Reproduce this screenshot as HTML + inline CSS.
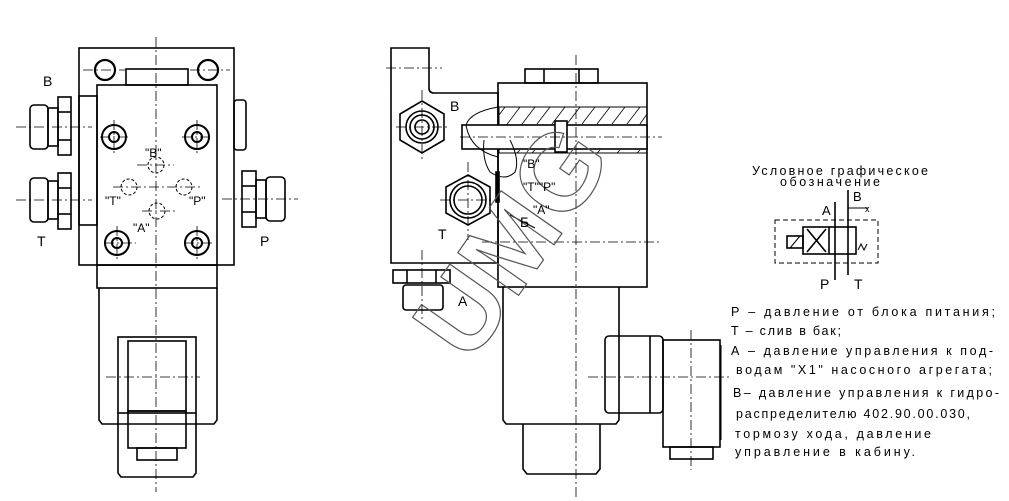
<!DOCTYPE html>
<html><head><meta charset="utf-8"><style>
html,body{margin:0;padding:0;background:#fff;}
svg{display:block;}
text{font-family:"Liberation Sans",sans-serif;fill:#000;}
</style></head><body>
<svg width="1009" height="501" viewBox="0 0 1009 501" xmlns="http://www.w3.org/2000/svg">
<g fill="none" stroke="#000" stroke-width="1.6">
<rect x="79" y="48" width="155" height="217"/>
<rect x="97" y="85" width="120" height="180" fill="#fff"/>
<rect x="97" y="265" width="120" height="23"/>
<rect x="126" y="69" width="62" height="16"/>
<circle cx="105" cy="70" r="10" stroke-width="2.2"/>
<circle cx="208" cy="70" r="10" stroke-width="2.2"/>
<rect x="79" y="96" width="18" height="129"/>
<rect x="58" y="97" width="13" height="58"/><line x1="58" y1="112" x2="71" y2="112"/><line x1="58" y1="140" x2="71" y2="140"/>
<rect x="48" y="108" width="10" height="38"/>
<rect x="30" y="105" width="18" height="44" rx="4"/>
<rect x="58" y="173" width="13" height="56"/><line x1="58" y1="188" x2="71" y2="188"/><line x1="58" y1="214" x2="71" y2="214"/>
<rect x="48" y="181" width="10" height="38"/>
<rect x="30" y="178" width="18" height="44" rx="4"/>
<rect x="234" y="100" width="12" height="50" rx="3"/>
<rect x="242" y="171" width="14" height="56"/><line x1="242" y1="186" x2="256" y2="186"/><line x1="242" y1="212" x2="256" y2="212"/>
<rect x="256" y="180" width="10" height="38"/>
<rect x="266" y="177" width="19" height="44" rx="4"/>
<g stroke-width="2"><circle cx="114" cy="137" r="12"/><circle cx="114" cy="137" r="5"/>
<circle cx="197" cy="137" r="12"/><circle cx="197" cy="137" r="5"/>
<circle cx="117" cy="243" r="12"/><circle cx="117" cy="243" r="5"/>
<circle cx="197" cy="243" r="12"/><circle cx="197" cy="243" r="5"/></g>
<g stroke-dasharray="3,2" stroke-width="1"><circle cx="156" cy="165" r="8"/><circle cx="129" cy="187" r="8"/><circle cx="184" cy="187" r="8"/><circle cx="157" cy="211" r="8"/></g>
<path d="M99 288 V420 L102 424 H214 L217 420 V288"/>
<rect x="118" y="337" width="78" height="76"/>
<rect x="128" y="341" width="58" height="70"/>
<rect x="128" y="411" width="58" height="37"/>
<rect x="137" y="448" width="40" height="12"/>
<path d="M118 413 V473 L121 477 H193 L196 473 V413"/>

<path d="M391 48 H429 V88 Q429 93 434 93 H498 V263 H391 Z"/>
<rect x="498" y="83" width="149" height="204"/>
<rect x="525" y="69" width="73" height="14"/><line x1="544" y1="69" x2="544" y2="83"/><line x1="579" y1="69" x2="579" y2="83"/>
<rect x="499" y="107" width="148" height="46" stroke-width="1"/>
<g stroke-width="0.8">
<path d="M505 107 l-6 8 M520 107 l-21 28 M535 107 l-25 33 M550 107 l-13 17 M565 107 l-13 17 M580 107 l-13 17 M595 107 l-13 17 M610 107 l-13 17 M625 107 l-13 17 M640 107 l-13 17 M647 114 l-7 10 M520 150 l-3 3 M535 150 l-3 3 M600 150 l-3 3 M620 150 l-3 3 M640 150 l-3 3"/>
</g>
<rect x="462" y="125" width="185" height="24" fill="#fff"/>
<rect x="555" y="121" width="12" height="31" fill="#fff"/>
<path d="M498 107 Q470 112 466 125 Q470 150 498 157" stroke-width="1"/>
<path d="M484 140 Q482 160 490 172 Q505 182 515 172 Q520 160 510 140" stroke-width="1"/>
<polygon points="422,101 444,114 444,140 422,153 400,140 400,114" fill="#fff"/>
<circle cx="422" cy="127" r="16"/><circle cx="422" cy="127" r="12"/><circle cx="422" cy="127" r="7"/>
<polygon points="468,175 490,187 490,213 468,225 446,213 446,187" fill="#fff"/>
<circle cx="468" cy="200" r="18"/><circle cx="468" cy="200" r="14"/>
<rect x="496" y="172" width="3" height="30" fill="#000"/>
<line x1="510" y1="215" x2="535" y2="228" stroke-width="1"/>
<rect x="393" y="270" width="57" height="13"/><line x1="407" y1="270" x2="407" y2="283"/><line x1="436" y1="270" x2="436" y2="283"/>
<rect x="403" y="285" width="40" height="25" rx="3"/>
<path d="M503 287 V420 L506 424 H616 L619 420 V287"/>
<path d="M523 424 V469 L527 474 H596 L600 469 V424"/>
<rect x="605" y="336" width="58" height="77" rx="4"/>
<line x1="650" y1="336" x2="650" y2="413"/>
<rect x="663" y="340" width="57" height="107"/>
<rect x="670" y="447" width="43" height="12"/>

<rect x="775" y="220" width="103" height="43" stroke-dasharray="5,3" stroke-width="1"/>
<rect x="803" y="227" width="53" height="27"/>
<line x1="829" y1="227" x2="829" y2="254"/>
<rect x="787" y="236" width="16" height="12"/>
<path d="M790 248 L800 236" stroke-width="1"/>
<path d="M807 229 L826 252 M826 229 L807 252" stroke-width="1.6"/>
<line x1="835" y1="202" x2="835" y2="280"/>
<line x1="848" y1="190" x2="848" y2="275"/>
<line x1="848" y1="208" x2="868" y2="208" stroke-width="1"/>
<path d="M858 250 l3 -6 l3 6 l3 -6" stroke-width="1"/>
<line x1="721" y1="345" x2="721" y2="440" stroke-width="1"/>
</g>
<g stroke="#000" stroke-width="0.8" stroke-dasharray="10,3,2,3" fill="none">
<line x1="156" y1="37" x2="156" y2="492"/>
<line x1="83" y1="70" x2="125" y2="70"/><line x1="190" y1="70" x2="230" y2="70"/>
<line x1="16" y1="127" x2="92" y2="127"/><line x1="16" y1="200" x2="92" y2="200"/>
<line x1="222" y1="199" x2="298" y2="199"/>
<line x1="100" y1="137" x2="130" y2="137"/><line x1="182" y1="137" x2="212" y2="137"/>
<line x1="104" y1="243" x2="136" y2="243"/><line x1="184" y1="243" x2="212" y2="243"/>
<line x1="114" y1="120" x2="114" y2="155"/><line x1="197" y1="120" x2="197" y2="155"/>
<line x1="117" y1="226" x2="117" y2="260"/><line x1="197" y1="226" x2="197" y2="260"/>
<line x1="113" y1="187" x2="200" y2="187"/>
<line x1="137" y1="165" x2="174" y2="165"/><line x1="142" y1="211" x2="176" y2="211"/>
<line x1="106" y1="377" x2="200" y2="377"/>
<line x1="576" y1="55" x2="576" y2="498"/>
<line x1="386" y1="68" x2="442" y2="68"/>
<line x1="396" y1="127" x2="450" y2="127"/><line x1="422" y1="90" x2="422" y2="160"/>
<line x1="440" y1="200" x2="500" y2="200"/><line x1="468" y1="162" x2="468" y2="240"/>
<line x1="460" y1="137" x2="662" y2="137"/>
<line x1="482" y1="242" x2="662" y2="242"/>
<line x1="422" y1="250" x2="422" y2="320"/>
<line x1="588" y1="377" x2="730" y2="377"/><line x1="691" y1="330" x2="691" y2="470"/>
</g>
<text x="0" y="0" transform="translate(542,262) rotate(-55)" text-anchor="middle" font-size="108" font-weight="bold" stroke="#555" stroke-width="1.2" style="fill:none">UMG</text>
<g font-size="14">
<text x="43" y="86">B</text><text x="37" y="246">T</text><text x="260" y="246">P</text>
<text x="450" y="111">B</text><text x="438" y="239">T</text><text x="458" y="306">A</text>
</g>
<g font-size="12" fill="#333">
<text x="145" y="157">"B"</text><text x="105" y="205">"T"</text><text x="189" y="205">"P"</text><text x="133" y="232">"A"</text>
<text x="523" y="168">"B"</text><text x="523" y="191">"T""P"</text><text x="533" y="214">"A"</text><text x="520" y="227" font-size="14">Б</text>
</g>
<g font-size="12.5">
<text x="752" y="175" textLength="176">Условное графическое</text>
<text x="780" y="186" textLength="100">обозначение</text>
<text x="822" y="215" font-size="13">A</text><text x="853" y="201" font-size="13">B</text><text x="865" y="212" font-size="9">x</text>
<text x="820" y="289" font-size="14">P</text><text x="854" y="289" font-size="14">T</text>
<text x="731" y="316" textLength="264">Р – давление  от  блока  питания;</text>
<text x="731" y="335" textLength="110">Т – слив  в  бак;</text>
<text x="731" y="355" textLength="262">А – давление  управления  к под-</text>
<text x="736" y="374" textLength="256">водам  "Х1"  насосного  агрегата;</text>
<text x="733" y="397" textLength="266">В– давление управления к гидро-</text>
<text x="736" y="418" textLength="234">распределителю 402.90.00.030,</text>
<text x="735" y="438" textLength="196">тормозу  хода,  давление</text>
<text x="735" y="456" textLength="180">управление  в  кабину.</text>
</g>
</svg>
</body></html>
